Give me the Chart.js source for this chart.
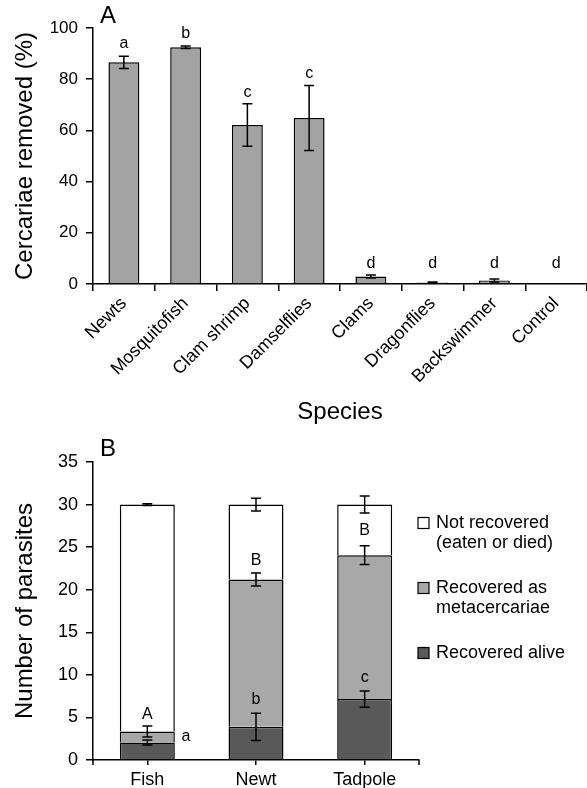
<!DOCTYPE html>
<html><head><meta charset="utf-8">
<script src="https://cdn.jsdelivr.net/npm/chart.js@4.4.0/dist/chart.umd.min.js"></script>
<style>
html,body{margin:0;padding:0;background:#fff;width:587px;height:788px;overflow:hidden}
#ca{position:absolute;left:0;top:0}
#cb{position:absolute;left:0;top:430px}
</style></head>
<body>
<canvas id="ca" width="587" height="430"></canvas>
<canvas id="cb" width="587" height="358"></canvas>
<script>
// ---------- Panel A data ----------
const speciesA = ['Newts','Mosquitofish','Clam shrimp','Damselflies','Clams','Dragonflies','Backswimmer','Control'];
const removedA = [86.6, 92.5, 62.1, 64.8, 2.9, 0.6, 1.4, 0];
const removedErrA = [2.4, 0.5, 8.3, 12.7, 0.6, 0.2, 0.6, 0];
const lettersA = ['a','b','c','c','d','d','d','d'];
const letterPosA = [94.0, 98.0, 74.6, 82.0, 7.8, 7.8, 7.8, 7.8];
const yTicksA = [0, 20, 40, 60, 80, 100];

// ---------- Panel B data ----------
const predatorsB = ['Fish','Newt','Tadpole'];
const aliveB = [2.05, 3.9, 7.15];
const aliveErrB = [0.3, 1.6, 0.95];
const metaB = [1.3, 17.3, 16.9];
const metaErrB = [0.65, 0.75, 1.1];
const notRecB = [26.65, 8.8, 5.95];
const notRecErrB = [0.1, 0.75, 1.0];
const lettersMetaB = ['A','B','B'];
const letterMetaPosB = [5.3, 23.4, 26.9];
const lettersAliveB = ['a','b','c'];
const letterAlivePosB = [2.7, 7.05, 9.7];
const letterAliveBesideB = [true, false, false];
const legendLinesB = [['Not recovered','(eaten or died)'],['Recovered as','metacercariae'],['Recovered alive']];
const yTicksB = [0, 5, 10, 15, 20, 25, 30, 35];

const FONT = "'Liberation Sans', Arial, Helvetica, sans-serif";

// Error bar plugin: draws bars from scales
const errPlugin = {
  id: 'errbars',
  afterDatasetsDraw(chart, args, opts) {
    const ctx = chart.ctx, ys = chart.scales.y;
    ctx.save();
    ctx.strokeStyle = '#000';
    ctx.lineWidth = 1.5;
    chart.data.datasets.forEach((ds, d) => {
      const errs = ds.errors; if (!errs) return;
      const meta = chart.getDatasetMeta(d);
      meta.data.forEach((bar, i) => {
        let cum = 0;
        if (opts.stacked) { for (let k = 0; k <= d; k++) cum += chart.data.datasets[k].data[i]; }
        else cum = ds.data[i];
        const e = errs[i]; if (!e) return;
        const y1 = ys.getPixelForValue(cum + e), y2 = ys.getPixelForValue(cum - e);
        const x = bar.x, w = opts.cap;
        ctx.beginPath();
        ctx.moveTo(x, y1); ctx.lineTo(x, y2);
        ctx.moveTo(x - w/2, y1); ctx.lineTo(x + w/2, y1);
        ctx.moveTo(x - w/2, y2); ctx.lineTo(x + w/2, y2);
        ctx.stroke();
      });
    });
    if (opts.endTicks) {
      const a = chart.chartArea;
      ctx.beginPath();
      ctx.moveTo(a.left, a.bottom); ctx.lineTo(a.left, a.bottom + opts.endTicks);
      ctx.moveTo(a.right, a.bottom); ctx.lineTo(a.right, a.bottom + opts.endTicks);
      ctx.stroke();
    }
    ctx.restore();
  }
};

// Letters + panel label plugin
const letterPlugin = {
  id: 'letters',
  afterDatasetsDraw(chart, args, opts) {
    const ctx = chart.ctx, ys = chart.scales.y;
    ctx.save();
    ctx.fillStyle = '#000';
    ctx.textAlign = 'center';
    ctx.textBaseline = 'middle';
    ctx.font = opts.size + 'px ' + FONT;
    opts.groups.forEach(g => {
      const meta = chart.getDatasetMeta(g.ds);
      meta.data.forEach((bar, i) => {
        const dx = (g.beside && g.beside[i]) ? bar.width / 2 + 11 : 0;
        ctx.fillText(g.text[i], bar.x + dx, ys.getPixelForValue(g.pos[i]));
      });
    });
    ctx.font = opts.panelSize + 'px ' + FONT;
    ctx.textAlign = 'left';
    ctx.fillText(opts.panel, chart.chartArea.left + 7, opts.panelY);
    ctx.restore();
  }
};

// Legend plugin for panel B
const legendPlugin = {
  id: 'legendB',
  afterDraw(chart, args, opts) {
    const ctx = chart.ctx;
    ctx.save();
    ctx.font = opts.size + 'px ' + FONT;
    ctx.textBaseline = 'middle';
    ctx.textAlign = 'left';
    const dsets = chart.data.datasets.slice().reverse();
    let y = opts.top;
    dsets.forEach((ds, k) => {
      const sx = chart.chartArea.right - 1;
      ctx.fillStyle = ds.backgroundColor;
      ctx.fillRect(sx, y - 5.5, 11, 11);
      ctx.strokeStyle = '#000'; ctx.lineWidth = 1.2;
      ctx.strokeRect(sx, y - 5.5, 11, 11);
      ctx.fillStyle = '#000';
      opts.lines[k].forEach((t, j) => ctx.fillText(t, sx + 18, y + j * opts.lh));
      y += opts.step;
    });
    ctx.restore();
  }
};

new Chart(document.getElementById('ca'), {
  type: 'bar',
  data: {
    labels: speciesA,
    datasets: [{
      data: removedA, errors: removedErrA,
      backgroundColor: '#a3a3a3', borderColor: '#000', borderWidth: 1.5,
      barPercentage: 0.5, categoryPercentage: 1
    }]
  },
  options: {
    responsive: false, animation: false, devicePixelRatio: 1,
    layout: { padding: { top: 28, left: 0, right: 0, bottom: 0 } },
    plugins: {
      legend: { display: false }, tooltip: { enabled: false },
      errbars: { cap: 10, stacked: false },
      letters: { size: 16, groups: [{ ds: 0, text: lettersA, pos: letterPosA }], panel: 'A', panelSize: 24, panelY: 16 }
    },
    scales: {
      x: {
        grid: { offset: true, drawOnChartArea: false, drawTicks: true, tickLength: 7, color: '#000', lineWidth: 1.5 },
        border: { color: '#000', width: 1.5 },
        ticks: { color: '#000', font: { family: FONT, size: 18 }, maxRotation: 45, minRotation: 45, autoSkip: false, padding: 2 },
        title: { display: true, text: 'Species', color: '#000', font: { family: FONT, size: 24 }, padding: { top: 0, bottom: 3 } },
        afterFit(s) { s.height = 146; }
      },
      y: {
        min: 0, max: 100,
        afterBuildTicks(s) { s.ticks = yTicksA.map(v => ({ value: v })); },
        ticks: { color: '#000', font: { family: FONT, size: 17 }, padding: 8 },
        grid: { drawOnChartArea: false, tickLength: 7, color: '#000', lineWidth: 1.5 },
        border: { color: '#000', width: 1.5 },
        title: { display: true, text: 'Cercariae removed (%)', color: '#000', font: { family: FONT, size: 24 }, padding: { top: 11, bottom: 0 } },
        afterFit(s) { s.width = 93; }
      }
    }
  },
  plugins: [errPlugin, letterPlugin]
});

new Chart(document.getElementById('cb'), {
  type: 'bar',
  data: {
    labels: predatorsB,
    datasets: [
      { label: 'Recovered alive', data: aliveB, errors: aliveErrB, backgroundColor: '#595959', borderColor: '#000', borderWidth: 1.5, barPercentage: 0.506, categoryPercentage: 1 },
      { label: 'Recovered as metacercariae', data: metaB, errors: metaErrB, backgroundColor: '#a8a8a8', borderColor: '#000', borderWidth: 1.5, barPercentage: 0.506, categoryPercentage: 1 },
      { label: 'Not recovered (eaten or died)', data: notRecB, errors: notRecErrB, backgroundColor: '#ffffff', borderColor: '#000', borderWidth: 1.5, barPercentage: 0.506, categoryPercentage: 1 }
    ]
  },
  options: {
    responsive: false, animation: false, devicePixelRatio: 1,
    layout: { padding: { top: 32, left: 0, right: 168, bottom: 0 } },
    plugins: {
      legend: { display: false }, tooltip: { enabled: false },
      errbars: { cap: 10, stacked: true, endTicks: 5 },
      letters: { size: 16, groups: [
        { ds: 1, text: lettersMetaB, pos: letterMetaPosB },
        { ds: 0, text: lettersAliveB, pos: letterAlivePosB, beside: letterAliveBesideB }
      ], panel: 'B', panelSize: 24, panelY: 19 },
      legendB: { size: 18, top: 93, step: 65, lh: 20, lines: legendLinesB }
    },
    scales: {
      x: {
        stacked: true,
        grid: { offset: false, drawOnChartArea: false, drawTicks: true, tickLength: 5, color: '#000', lineWidth: 1.5 },
        border: { color: '#000', width: 1.5 },
        ticks: { color: '#000', font: { family: FONT, size: 18 }, padding: 4, autoSkip: false, maxRotation: 0 },
        afterFit(s) { s.height = 28; }
      },
      y: {
        stacked: true, min: 0, max: 35,
        afterBuildTicks(s) { s.ticks = yTicksB.map(v => ({ value: v })); },
        ticks: { color: '#000', font: { family: FONT, size: 18 }, padding: 8 },
        grid: { drawOnChartArea: false, tickLength: 7, color: '#000', lineWidth: 1.5 },
        border: { color: '#000', width: 1.5 },
        title: { display: true, text: 'Number of parasites', color: '#000', font: { family: FONT, size: 24 }, padding: { top: 11, bottom: 0 } },
        afterFit(s) { s.width = 93; }
      }
    }
  },
  plugins: [errPlugin, letterPlugin, legendPlugin]
});
</script>
</body></html>
